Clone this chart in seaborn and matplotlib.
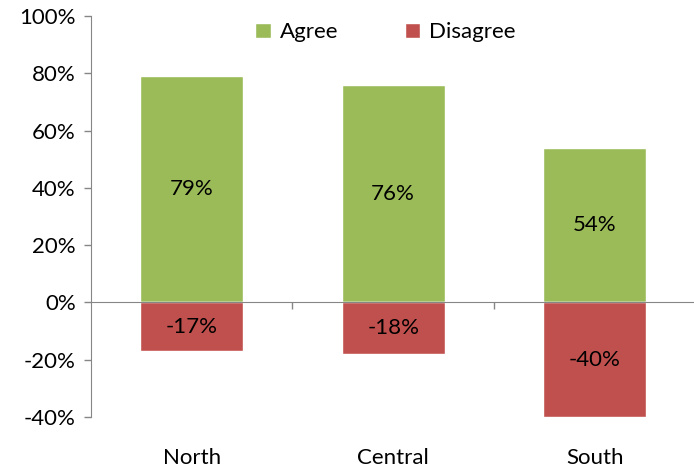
import matplotlib
matplotlib.use("Agg")
import matplotlib.pyplot as plt
import matplotlib.transforms as mtransforms
from matplotlib.patches import Patch
from matplotlib.ticker import FixedLocator, PercentFormatter
import pandas as pd
import seaborn as sns

# Dados
regioes = ["North", "Central", "South"]
agree = [79, 76, 54]
disagree = [-17, -18, -40]

COLORS = {"agree": "#9BBB59", "disagree": "#C0504D", "axis": "#868686"}

sns.set_style("white")
plt.rcParams["font.family"] = ["Lato", "DejaVu Sans"]
plt.rcParams["axes.unicode_minus"] = False
plt.rcParams["text.color"] = "black"
plt.rcParams["ytick.labelcolor"] = "black"

FS = 16

df = pd.DataFrame({"regiao": regioes, "agree": agree, "disagree": disagree})

fig = plt.figure(figsize=(6.94, 4.72), dpi=100)
ax = fig.add_axes([0.131, 0.1165, 0.871, 0.8495])

sns.barplot(data=df, x="regiao", y="agree", color=COLORS["agree"],
            width=0.51, saturation=1, ax=ax)
sns.barplot(data=df, x="regiao", y="disagree", color=COLORS["disagree"],
            width=0.51, saturation=1, ax=ax)

ax.set_ylim(-40, 100)
ax.set_xlim(-0.5, 2.5)
ax.set_yticks(range(-40, 101, 20))
ax.yaxis.set_major_formatter(PercentFormatter(decimals=0))
ax.tick_params(axis="y", length=5, width=1, color=COLORS["axis"],
               labelsize=FS, labelcolor="black", pad=6, direction="out",
               left=True)
ax.set_xlabel("")
ax.set_ylabel("")

# Eixo x na linha do zero
for s in ["top", "right"]:
    ax.spines[s].set_visible(False)
ax.spines["left"].set_color(COLORS["axis"])
ax.spines["bottom"].set_color(COLORS["axis"])
ax.spines["bottom"].set_position(("data", 0))
ax.spines["bottom"].set_zorder(5)
ax.xaxis.set_major_locator(FixedLocator([0.5, 1.5]))
ax.set_xticklabels([])
ax.tick_params(axis="x", length=5, width=1, color=COLORS["axis"],
               direction="out", bottom=True)

# Rótulos das categorias embaixo
trans = mtransforms.blended_transform_factory(ax.transData, ax.transAxes)
for i, r in enumerate(regioes):
    ax.text(i, -0.102, r, transform=trans, ha="center", va="center",
            fontsize=FS, color="black")

# Valores nas barras
for i in range(len(regioes)):
    ax.text(i, agree[i] / 2, f"{agree[i]}%", ha="center", va="center",
            fontsize=FS, color="black")
    ax.text(i, disagree[i] / 2, f"{disagree[i]}%", ha="center",
            va="center", fontsize=FS, color="black")

handles = [Patch(facecolor=COLORS["agree"], label="Agree"),
           Patch(facecolor=COLORS["disagree"], label="Disagree")]
ax.legend(handles=handles, loc="center", bbox_to_anchor=(0.487, 0.96),
          ncol=2, frameon=False, fontsize=FS, handlelength=0.7,
          handleheight=0.7, handletextpad=0.4, columnspacing=3.0,
          labelcolor="black")

fig.savefig("out.png", dpi=100, facecolor="white")
plt.close(fig)
